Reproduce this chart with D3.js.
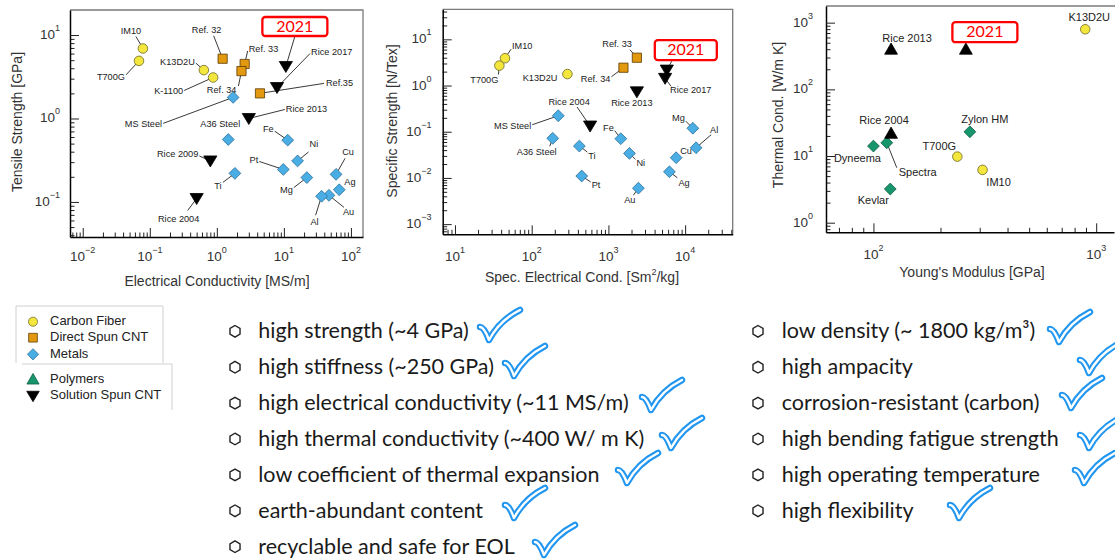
<!DOCTYPE html>
<html>
<head>
<meta charset="utf-8">
<script src="https://cdn.jsdelivr.net/npm/d3@7"></script>
<style>
  body { margin: 0; background: #fff; }
  svg { display: block; }
</style>
</head>
<body>
<div id="chart-container"></div>
<script>

//Data: panel 1 - electrical conductivity [MS/m] vs tensile strength [GPa]

const p1CarbonFiber = [
  { name: "IM10", x: 0.079, y: 6.9 },
  { name: "T700G", x: 0.069, y: 4.9 },
  { name: "K13D2U", x: 0.64, y: 3.8 },
  { name: "K-1100", x: 0.88, y: 3.1 }
];
const p1DirectSpun = [
  { name: "Ref. 32", x: 1.22, y: 5.2 },
  { name: "Ref. 33", x: 2.6, y: 4.5 },
  { name: "Ref. 34", x: 2.33, y: 3.7 },
  { name: "Ref.35", x: 4.4, y: 2.0 }
];
const p1SolutionSpun = [
  { name: "2021", x: 10.7, y: 4.2 },
  { name: "Rice 2017", x: 7.9, y: 2.35 },
  { name: "Rice 2013", x: 3.0, y: 1.0 },
  { name: "Rice 2009", x: 0.8, y: 0.31 },
  { name: "Rice 2004", x: 0.5, y: 0.11 }
];
const p1Metals = [
  { name: "MS Steel", x: 1.75, y: 1.79 },
  { name: "A36 Steel", x: 1.48, y: 0.56 },
  { name: "Ti", x: 1.86, y: 0.22 },
  { name: "Fe", x: 11.4, y: 0.55 },
  { name: "Ni", x: 16, y: 0.31 },
  { name: "Pt", x: 9.8, y: 0.245 },
  { name: "Mg", x: 22, y: 0.196 },
  { name: "Cu", x: 60, y: 0.214 },
  { name: "Ag", x: 67, y: 0.14 },
  { name: "Au", x: 47, y: 0.12 },
  { name: "Al", x: 36.5, y: 0.117 }
];

//Data: panel 2 - specific electrical conductivity [Sm2/kg] vs specific strength [N/Tex]

const p2CarbonFiber = [
  { name: "IM10", x: 44.9, y: 3.9 },
  { name: "T700G", x: 37.9, y: 2.7 },
  { name: "K13D2U", x: 292, y: 1.77 }
];
const p2DirectSpun = [
  { name: "Ref. 33", x: 2350, y: 4.0 },
  { name: "Ref. 34", x: 1570, y: 2.43 }
];
const p2SolutionSpun = [
  { name: "2021", x: 5770, y: 2.16 },
  { name: "Rice 2017", x: 5480, y: 1.43 },
  { name: "Rice 2013", x: 2350, y: 0.73 },
  { name: "Rice 2004", x: 577, y: 0.133 }
];
const p2Metals = [
  { name: "MS Steel", x: 222, y: 0.222 },
  { name: "A36 Steel", x: 188, y: 0.072 },
  { name: "Ti", x: 418, y: 0.049 },
  { name: "Pt", x: 449, y: 0.011 },
  { name: "Fe", x: 1450, y: 0.0706 },
  { name: "Ni", x: 1880, y: 0.034 },
  { name: "Au", x: 2460, y: 0.006 },
  { name: "Mg", x: 12600, y: 0.119 },
  { name: "Al", x: 13900, y: 0.045 },
  { name: "Cu", x: 7640, y: 0.0274 },
  { name: "Ag", x: 6240, y: 0.0136 }
];

//Data: panel 3 - Young's modulus [GPa] vs thermal conductivity [W/m K]

const p3CarbonFiber = [
  { name: "K13D2U", x: 893, y: 796 },
  { name: "T700G", x: 238, y: 9.8 },
  { name: "IM10", x: 309, y: 6.2 }
];
const p3SolutionSpun = [
  { name: "Rice 2013", x: 120, y: 400 },
  { name: "2021", x: 260, y: 400 },
  { name: "Rice 2004", x: 120, y: 21.9 }
];
const p3Polymers = [
  { name: "Dyneema", x: 100, y: 14.1 },
  { name: "Spectra", x: 114.8, y: 15.8 },
  { name: "Kevlar", x: 119, y: 3.2 },
  { name: "Zylon HM", x: 271, y: 23.1 }
];

//Tick exponents (labels are 10^e)

const p1XTicks = [-2, -1, 0, 1, 2];
const p1YTicks = [-1, 0, 1];
const p2XTicks = [1, 2, 3, 4];
const p2YTicks = [-3, -2, -1, 0, 1];
const p3XTicks = [2, 3];
const p3YTicks = [0, 1, 2, 3];

//Legend and property lists

const legendItems = ["Carbon Fiber", "Direct Spun CNT", "Metals", "Polymers", "Solution Spun CNT"];
const leftList = [
  "high strength (~4 GPa)",
  "high stiffness (~250 GPa)",
  "high electrical conductivity (~11 MS/m)",
  "high thermal conductivity (~400 W/ m K)",
  "low coefficient of thermal expansion",
  "earth-abundant content",
  "recyclable and safe for EOL"
];
const rightList = [
  "low density (~ 1800 kg/m³)",
  "high ampacity",
  "corrosion-resistant (carbon)",
  "high bending fatigue strength",
  "high operating temperature",
  "high flexibility"
];

//Marker styles

const styles = {
  carbon:   { shape: "circle",  fill: "#f3e63c", stroke: "#6d6826" },
  direct:   { shape: "square",  fill: "#e2980f", stroke: "#5a3b05" },
  metal:    { shape: "diamond", fill: "#4aade4", stroke: "#2b6f99" },
  polymer:  { shape: "diamond", fill: "#17956c", stroke: "#0b5a40" },
  polyLeg:  { shape: "up",      fill: "#17956c", stroke: "#0b5a40" },
  solution: { shape: "down",    fill: "#000",    stroke: "#000" },
  solUp:    { shape: "up",      fill: "#000",    stroke: "#000" }
};

function shapePath(shape) {
  if (shape === "circle") return d3.symbol(d3.symbolCircle, 72)();
  if (shape === "square") return "M-4.6,-4.6H4.6V4.6H-4.6Z";
  if (shape === "diamond") return "M0,-5.9L5.9,0L0,5.9L-5.9,0Z";
  if (shape === "down") return "M-6.6,-5L6.6,-5L0,6Z";
  return "M-6.4,5L6.4,5L0,-6.2Z";
}

//Label placement: [dx, dy, anchor, leader dx, leader dy] relative to the point

const p1Labels = {
  "IM10": [-12, -17, "middle", -7, -12], "T700G": [-14, 17, "end", -13, 14],
  "K13D2U": [-9, -8, "end", -8, -7], "K-1100": [-30, 14, "end", -29, 13],
  "Ref. 32": [-16, -28, "middle", -9, -23], "Ref. 33": [4, -14, "start", 3, -13],
  "Ref. 34": [-5, 19, "end", -3, 15], "Ref.35": [66, -10, "start", 64, -10],
  "Rice 2017": [34, -35, "start", 33, -34], "Rice 2013": [37, -9, "start", 36, -9],
  "Rice 2009": [-12, -6, "end", -11, -5], "Rice 2004": [-18, 21, "middle", -9, 12],
  "MS Steel": [-71, 27, "end", -70, 26], "A36 Steel": [-8, -15, "middle"],
  "Ti": [-17, 13, "middle", -12, 9], "Fe": [-14, -11, "end", -13, -9],
  "Ni": [12, -16, "start", 11, -9], "Pt": [-25, -9, "end", -24, -8],
  "Mg": [-14, 13, "end", -13, 10], "Cu": [12, -22, "middle", 9, -16],
  "Ag": [5, -7, "start"], "Au": [14, 17, "start", 15, 12], "Al": [-7, 26, "middle", -6, 19]
};
const p2Labels = {
  "IM10": [7, -12, "start", 6, -9], "T700G": [-1, 15, "end", -1, 9],
  "K13D2U": [-10, 4, "end"], "Ref. 33": [-5, -13, "end", -7, -8],
  "Ref. 34": [-13, 12, "end", -12, 9], "Rice 2017": [5, 12, "start", 6, 8],
  "Rice 2013": [-5, 12, "middle"], "Rice 2004": [-21, -23, "middle", -13, -19],
  "MS Steel": [-27, 11, "end", -26, 9], "A36 Steel": [-16, 14, "middle", -3, 8],
  "Ti": [9, 11, "start", 8, 6], "Pt": [10, 10, "start", 9, 6],
  "Fe": [-7, -10, "end", -6, -8], "Ni": [7, 10, "start", 6, 6],
  "Au": [-3, 12, "end", -5, 7], "Mg": [-8, -10, "end", -7, -7],
  "Al": [14, -17, "start", 15, -13], "Cu": [4, -6, "start"], "Ag": [9, 12, "start", 8, 6]
};
const p3Labels = {
  "Rice 2013": [16, -10, "middle"], "K13D2U": [4, -11, "middle"],
  "Rice 2004": [-7, -12, "middle"], "Dyneema": [-16, 13, "middle"],
  "Spectra": [12, 30, "start", 10, 25], "Kevlar": [-17, 12, "middle"],
  "Zylon HM": [15, -12, "middle"], "T700G": [-18, -10, "middle"], "IM10": [16, 13, "middle"]
};

//Panel layout

const panels = [
  {
    xDomain: [10 ** -2.19, 10 ** 2.18], xRange: [70, 363],
    yDomain: [10 ** -1.42, 10 ** 1.3], yRange: [237, 10],
    xTicks: p1XTicks, yTicks: p1YTicks, xLabelY: 257, yLabelX: 60,
    xTitle: ["Electrical Conductivity [MS/m]"], xTitlePos: [217, 282],
    yTitle: "Tensile Strength [GPa]", yTitlePos: [18, 122],
    labelSize: 9.2, labels: p1Labels,
    box: { name: "2021", dx: 9, dy: -40, w: 65, h: 19, lx: 9, ly: -30 },
    series: [
      { data: p1CarbonFiber, style: "carbon" }, { data: p1DirectSpun, style: "direct" },
      { data: p1Metals, style: "metal" }, { data: p1SolutionSpun, style: "solution" }
    ]
  },
  {
    xDomain: [10 ** 0.84, 10 ** 4.62], xRange: [442.7, 732.7],
    yDomain: [10 ** -3.22, 10 ** 1.65], yRange: [234.3, 9.3],
    xTicks: p2XTicks, yTicks: p2YTicks, xLabelY: 256.7, yLabelX: 431.5,
    xTitle: ["Spec. Electrical Cond. [Sm", "2", "/kg]"], xTitlePos: [582, 278],
    yTitle: "Specific Strength [N/Tex]", yTitlePos: [393, 121],
    labelSize: 9.2, labels: p2Labels,
    box: { name: "2021", dx: 19, dy: -20, w: 62, h: 20, lx: 5, ly: -9 },
    series: [
      { data: p2CarbonFiber, style: "carbon" }, { data: p2DirectSpun, style: "direct" },
      { data: p2Metals, style: "metal" }, { data: p2SolutionSpun, style: "solution" }
    ]
  },
  {
    xDomain: [10 ** 1.787, 10 ** 3.08], xRange: [826, 1114],
    yDomain: [10 ** -0.144, 10 ** 3.25], yRange: [232.3, 6],
    xTicks: p3XTicks, yTicks: p3YTicks, xLabelY: 255, yLabelX: 813,
    xTitle: ["Young's Modulus [GPa]"], xTitlePos: [972, 273],
    yTitle: "Thermal Cond. [W/m K]", yTitlePos: [779, 115],
    labelSize: 11, labels: p3Labels, noRight: true,
    box: { name: "2021", dx: 19, dy: -17, w: 65, h: 20 },
    series: [
      { data: p3CarbonFiber, style: "carbon" }, { data: p3Polymers, style: "polymer" },
      { data: p3SolutionSpun, style: "solUp" }
    ]
  }
];

//Create the SVG

const svg = d3.select("#chart-container")
  .append("svg")
  .attr("width", 1115)
  .attr("height", 560)
  .style("font-family", "'Liberation Sans', Arial, sans-serif");

function minorTicks(dom) {
  const out = [];
  const lo = Math.floor(Math.log10(dom[0])), hi = Math.ceil(Math.log10(dom[1]));
  for (let k = lo; k <= hi; k++) {
    for (let m = 2; m <= 9; m++) {
      const v = m * 10 ** k;
      if (v >= dom[0] && v <= dom[1]) out.push(v);
    }
  }
  return out;
}

function powerLabel(sel, e) {
  sel.append("tspan").text("10");
  sel.append("tspan").attr("dy", -6).attr("font-size", 9)
    .text(e < 0 ? "\u2212" + (-e) : e);
}

function drawPanel(cfg) {
  const x = d3.scaleLog().domain(cfg.xDomain).range(cfg.xRange);
  const y = d3.scaleLog().domain(cfg.yDomain).range(cfg.yRange);
  const [x0, x1] = cfg.xRange, [y0, y1] = cfg.yRange;
  const g = svg.append("g");

  //grey top / right border
  g.append("path")
    .attr("d", cfg.noRight ? `M${x0},${y1}H${x1 + 2}` : `M${x0},${y1}H${x1}V${y0}`)
    .attr("fill", "none").attr("stroke", "#7a7a7a").attr("stroke-width", 1.3);

  //bottom axis: major + minor ticks pointing inward
  g.append("g").attr("transform", `translate(0,${y0})`)
    .call(d3.axisBottom(x).tickValues(minorTicks(cfg.xDomain)).tickSize(-4.5).tickSizeOuter(0).tickFormat(""))
    .call(a => a.select(".domain").remove());
  g.append("g").attr("transform", `translate(0,${y0})`)
    .call(d3.axisBottom(x).tickValues(cfg.xTicks.map(e => 10 ** e)).tickSize(-9).tickSizeOuter(0).tickFormat(""))
    .call(a => a.select(".domain").attr("stroke-width", 1.5));

  //left axis
  g.append("g").attr("transform", `translate(${x0},0)`)
    .call(d3.axisLeft(y).tickValues(minorTicks(cfg.yDomain)).tickSize(-4.5).tickSizeOuter(0).tickFormat(""))
    .call(a => a.select(".domain").remove());
  g.append("g").attr("transform", `translate(${x0},0)`)
    .call(d3.axisLeft(y).tickValues(cfg.yTicks.map(e => 10 ** e)).tickSize(-9).tickSizeOuter(0).tickFormat(""))
    .call(a => a.select(".domain").attr("stroke-width", 1.5));
  g.selectAll(".tick line").attr("stroke", "#222");

  //tick labels
  cfg.xTicks.forEach(e => {
    g.append("text").attr("x", x(10 ** e)).attr("y", cfg.xLabelY)
      .attr("text-anchor", "middle").attr("dominant-baseline", "middle")
      .attr("font-size", 13.5).attr("fill", "#333")
      .call(powerLabel, e);
  });
  cfg.yTicks.forEach(e => {
    g.append("text").attr("x", cfg.yLabelX).attr("y", y(10 ** e))
      .attr("text-anchor", "end").attr("dominant-baseline", "middle")
      .attr("font-size", 13.5).attr("fill", "#333")
      .call(powerLabel, e);
  });

  //axis titles
  const xt = g.append("text").attr("x", cfg.xTitlePos[0]).attr("y", cfg.xTitlePos[1])
    .attr("text-anchor", "middle").attr("dominant-baseline", "middle")
    .attr("font-size", 14).attr("fill", "#333");
  xt.append("tspan").text(cfg.xTitle[0]);
  if (cfg.xTitle.length > 1) {
    xt.append("tspan").attr("dy", -5).attr("font-size", 9).text(cfg.xTitle[1]);
    xt.append("tspan").attr("dy", 5).text(cfg.xTitle[2]);
  }
  g.append("text")
    .attr("transform", `translate(${cfg.yTitlePos[0]},${cfg.yTitlePos[1]}) rotate(-90)`)
    .attr("text-anchor", "middle").attr("dominant-baseline", "middle")
    .attr("font-size", 14).attr("fill", "#333")
    .text(cfg.yTitle);

  const pts = [];
  cfg.series.forEach(s => s.data.forEach(d => pts.push({ ...d, style: s.style, px: x(d.x), py: y(d.y) })));

  //leader lines
  pts.forEach(p => {
    const l = cfg.labels[p.name];
    if (l && l.length > 3) {
      g.append("line").attr("x1", p.px + l[3]).attr("y1", p.py + l[4])
        .attr("x2", p.px).attr("y2", p.py)
        .attr("stroke", "#222").attr("stroke-width", 0.9);
    }
    if (p.name === cfg.box.name && cfg.box.lx !== undefined) {
      g.append("line").attr("x1", p.px + cfg.box.lx).attr("y1", p.py + cfg.box.ly)
        .attr("x2", p.px).attr("y2", p.py)
        .attr("stroke", "#222").attr("stroke-width", 0.9);
    }
  });

  //markers
  g.selectAll("path.marker")
    .data(pts)
    .join("path")
    .attr("class", "marker")
    .attr("transform", d => `translate(${d.px},${d.py})`)
    .attr("d", d => shapePath(styles[d.style].shape))
    .attr("fill", d => styles[d.style].fill)
    .attr("stroke", d => styles[d.style].stroke)
    .attr("stroke-width", 0.8);

  //point labels
  pts.forEach(p => {
    const l = cfg.labels[p.name];
    if (!l) return;
    g.append("text").attr("x", p.px + l[0]).attr("y", p.py + l[1])
      .attr("text-anchor", l[2]).attr("dominant-baseline", "middle")
      .attr("font-size", cfg.labelSize).attr("fill", "#222")
      .text(p.name);
  });

  //red 2021 box
  const bp = pts.find(p => p.name === cfg.box.name);
  const bx = bp.px + cfg.box.dx, by = bp.py + cfg.box.dy;
  g.append("rect")
    .attr("x", bx - cfg.box.w / 2).attr("y", by - cfg.box.h / 2)
    .attr("width", cfg.box.w).attr("height", cfg.box.h).attr("rx", 3)
    .attr("fill", "#fff").attr("stroke", "#f00").attr("stroke-width", 2.3);
  g.append("text").attr("x", bx).attr("y", by + 1)
    .attr("text-anchor", "middle").attr("dominant-baseline", "middle")
    .attr("font-family", "Lato, 'Open Sans', sans-serif")
    .attr("font-size", 16).attr("fill", "#f00")
    .text(cfg.box.name);
}

panels.forEach(drawPanel);

//Legend

const legendStyles = ["carbon", "direct", "metal", "polyLeg", "solution"];
const legendY = [321.7, 337.7, 354.3, 379.3, 396];
svg.append("path").attr("d", "M16,363V306H163V363")
  .attr("fill", "none").attr("stroke", "#d0d0d0").attr("stroke-width", 1);
svg.append("path").attr("d", "M22,364H172V410")
  .attr("fill", "none").attr("stroke", "#d0d0d0").attr("stroke-width", 1);
legendItems.forEach((t, i) => {
  svg.append("path")
    .attr("transform", `translate(33,${legendY[i]}) scale(0.95)`)
    .attr("d", shapePath(styles[legendStyles[i]].shape))
    .attr("fill", styles[legendStyles[i]].fill)
    .attr("stroke", styles[legendStyles[i]].stroke).attr("stroke-width", 0.8);
  svg.append("text").attr("x", 50).attr("y", legendY[i])
    .attr("dominant-baseline", "middle").attr("font-size", 13).attr("fill", "#222")
    .text(t);
});

//Property lists with hexagon bullets and check marks

const rowGap = 35.9;
const leftChecks = [[480, 310], [505, 346], [642, 380], [662, 418], [618, 453], [505, 488], [535, 525]];
const rightChecks = [[1050, 312], [1080, 343], [1062, 378], [1080, 418], [1075, 453], [950, 488]];
const hexagon = d3.range(6).map(k => {
  const a = Math.PI / 3 * k - Math.PI / 2;
  return [5.8 * Math.cos(a), 5.8 * Math.sin(a)];
});

function drawList(items, bulletX, textX, checks) {
  items.forEach((t, i) => {
    const base = 338.3 + i * rowGap;
    svg.append("path")
      .attr("transform", `translate(${bulletX},${base - 7})`)
      .attr("d", "M" + hexagon.join("L") + "Z")
      .attr("fill", "none").attr("stroke", "#222").attr("stroke-width", 1.4);
    svg.append("text").attr("x", textX).attr("y", base)
      .attr("font-family", "Lato, 'Open Sans', sans-serif")
      .attr("font-size", 21.5).attr("fill", "#1a1a1a")
      .text(t);
  });
  checks.forEach(c => {
    const d = "M0,17 C3,17 6,22 9,30 C16,17 26,7 40,0";
    svg.append("path").attr("transform", `translate(${c[0]},${c[1]})`).attr("d", d)
      .attr("fill", "none").attr("stroke", "#2196f0").attr("stroke-width", 6.5)
      .attr("stroke-linecap", "round").attr("stroke-linejoin", "round");
    svg.append("path").attr("transform", `translate(${c[0]},${c[1]})`).attr("d", d)
      .attr("fill", "none").attr("stroke", "#fff").attr("stroke-width", 2.4)
      .attr("stroke-linecap", "round").attr("stroke-linejoin", "round");
  });
}

drawList(leftList, 235, 258.3, leftChecks);
drawList(rightList, 758, 781.7, rightChecks);

</script>
</body>
</html>
